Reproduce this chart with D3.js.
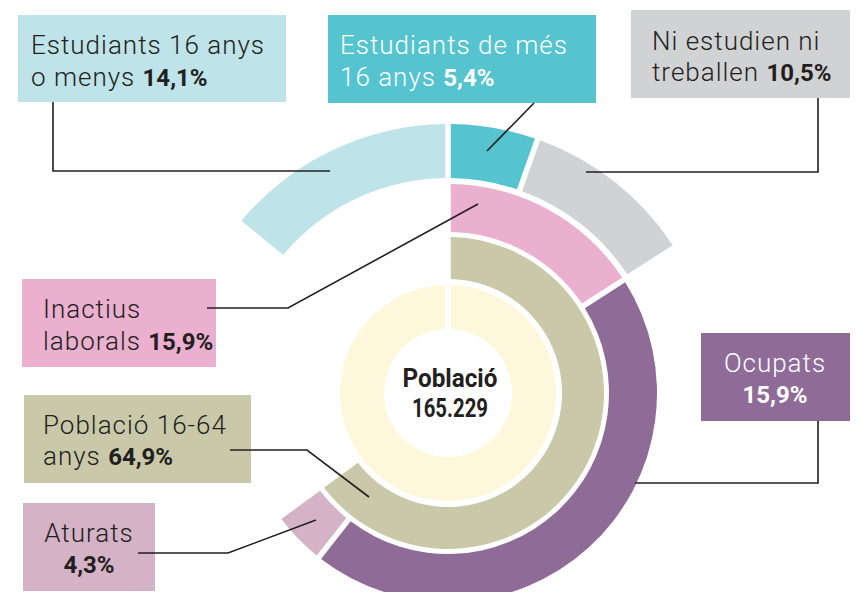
<!DOCTYPE html>
<html>
<head>
<meta charset="utf-8">
<script src="https://cdn.jsdelivr.net/npm/d3@7"></script>
<style>
  body { margin: 0; background: #fff; }
  svg { display: block; }
  .lbl { font-family: Roboto, 'Liberation Sans', sans-serif; font-weight: 300; font-size: 26px; letter-spacing: 1px; }
  .num { font-family: Roboto, 'Liberation Sans', sans-serif; font-weight: 700; font-size: 24px; letter-spacing: 0; }
  .center { font-family: Roboto, 'Liberation Sans', sans-serif; font-weight: 700; font-size: 25px; fill: #231f20; }
  .leader { fill: none; stroke: #231f20; stroke-width: 1.6; }
</style>
</head>
<body>
<svg id="chart" width="857" height="592"></svg>
<script>
/* global d3 */

// data
var total = '165.229'
var segNames = ['Població', 'Població 16-64 anys', 'Inactius laborals', 'Ocupats', 'Aturats',
  'Estudiants 16 anys o menys', 'Estudiants de més 16 anys', 'Ni estudien ni treballen']
var segShare = [100, 64.9, 15.9, 44.7, 4.3, 14.1, 5.4, 10.5]
var segRing = [0, 1, 2, 2, 2, 3, 3, 3]
var segColor = ['#fdf7dc', '#c9c9a9', '#ebb0cf', '#8f6c98', '#d4b3c7', '#bee3e8', '#55c4ce', '#d1d2d4']

// labels as printed in the picture
var labelSeg = [5, 6, 7, 2, 1, 4, 3]
var labelLines = [
  ['Estudiants 16 anys', 'o menys '],
  ['Estudiants de més', '16 anys '],
  ['Ni estudien ni', 'treballen '],
  ['Inactius', 'laborals '],
  ['Població 16-64', 'anys '],
  ['Aturats', ''],
  ['Ocupats', '']
]
var labelPct = ['14,1%', '5,4%', '10,5%', '15,9%', '64,9%', '4,3%', '15,9%']

var cx = 448
var cy = 393

var svg = d3.select('#chart')

var angle = d3.scaleLinear().domain([0, 100]).range([0, 2 * Math.PI])
var inner = d3.scaleOrdinal().domain([0, 1, 2, 3]).range([64, 114, 161, 215])
var outer = d3.scaleOrdinal().domain([0, 1, 2, 3]).range([108, 156, 209, 269])

// stack the segments of each ring; the under-16 block ends at the top
var cursor = {0: 0, 1: 0, 2: 0, 3: -segShare[5]}
var segs = segShare.map((v, i) => {
  var r = segRing[i]
  var s = { name: segNames[i], ring: r, start: cursor[r], end: cursor[r] + v, color: segColor[i] }
  cursor[r] += v
  return s
})

var arc = d3.arc()
    .innerRadius(d => inner(d.ring))
    .outerRadius(d => outer(d.ring))
    .startAngle(d => angle(d.start))
    .endAngle(d => Math.min(angle(d.end), 2 * Math.PI - 0.0001))
    .padRadius(100)
    .padAngle(0.055)

var g = svg.append('g')
    .attr('transform', 'translate(' + cx + ',' + cy + ')')

g.selectAll('.seg')
    .data(segs)
  .enter().append('path')
    .attr('class', 'seg')
    .attr('d', arc)
    .attr('fill', d => d.color)

// centre title, condensed like the original
g.selectAll('.center')
    .data([segNames[0], total])
  .enter().append('text')
    .attr('class', 'center')
    .attr('text-anchor', 'middle')
    .attr('x', 2)
    .attr('y', (d, i) => -6 + i * 30)
    .attr('textLength', (d, i) => i ? 76 : 95)
    .attr('lengthAdjust', 'spacingAndGlyphs')
    .text(d => d)

// label boxes
var boxes = [
  { x: 18, y: 15, w: 268, h: 87, tx: 31, ty: 54, dy: 32, fg: '#231f20', anchor: 'start' },
  { x: 328, y: 15, w: 268, h: 88, tx: 340, ty: 54, dy: 32, fg: '#fff', anchor: 'start' },
  { x: 631, y: 10, w: 219, h: 88, tx: 652, ty: 50, dy: 31, fg: '#231f20', anchor: 'start' },
  { x: 22, y: 279, w: 194, h: 88, tx: 43, ty: 318, dy: 32, fg: '#231f20', anchor: 'start' },
  { x: 24, y: 395, w: 227, h: 88, tx: 43, ty: 434, dy: 31, fg: '#231f20', anchor: 'start' },
  { x: 23, y: 503, w: 132, h: 88, tx: 89, ty: 542, dy: 31, fg: '#231f20', anchor: 'middle' },
  { x: 701, y: 333, w: 149, h: 88, tx: 775, ty: 372, dy: 31, fg: '#fff', anchor: 'middle' }
]

var leaders = [
  [[53, 102], [53, 171], [330, 171]],
  [[487, 151], [534, 103]],
  [[818, 98], [818, 172], [586, 172]],
  [[207, 308], [288, 308], [478, 204]],
  [[230, 450], [307, 450], [369, 497]],
  [[138, 553], [228, 553], [316, 520]],
  [[818, 421], [818, 483], [635, 483]]
]

var line = d3.line()

var lab = svg.selectAll('.label')
    .data(labelSeg)
  .enter().append('g')
    .attr('class', 'label')

lab.append('rect')
    .attr('x', (d, i) => boxes[i].x)
    .attr('y', (d, i) => boxes[i].y)
    .attr('width', (d, i) => boxes[i].w)
    .attr('height', (d, i) => boxes[i].h)
    .attr('fill', d => segColor[d])

lab.append('path')
    .attr('class', 'leader')
    .attr('d', (d, i) => line(leaders[i]))

lab.each(function (d, i) {
  var b = boxes[i]
  var t = d3.select(this).append('text')
      .attr('class', 'lbl')
      .attr('fill', b.fg)
      .attr('text-anchor', b.anchor)
  t.append('tspan')
      .attr('x', b.tx)
      .attr('y', b.ty)
      .text(labelLines[i][0])
  var l2 = t.append('tspan')
      .attr('x', b.tx)
      .attr('y', b.ty + b.dy)
  l2.append('tspan').text(labelLines[i][1])
  l2.append('tspan').attr('class', 'num').text(labelPct[i])
})
</script>
</body>
</html>
